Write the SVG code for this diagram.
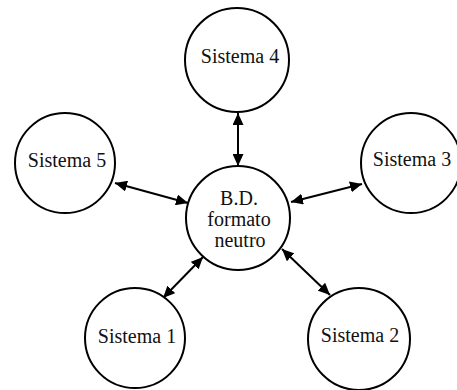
<svg xmlns="http://www.w3.org/2000/svg" width="457" height="390" viewBox="0 0 457 390">
  <style>
    .node circle { fill: #ffffff; stroke: #000000; stroke-width: 2; }
    .node text { font-family: "Liberation Serif", "Times New Roman", serif; font-size: 20px; fill: #111111; text-anchor: middle; }
    .link { stroke: #000000; stroke-width: 2; fill: none; marker-start: url(#head); marker-end: url(#head); }
  </style>
  <defs>
    <marker id="head" markerUnits="userSpaceOnUse" markerWidth="13" markerHeight="11" refX="12" refY="5.5" orient="auto-start-reverse">
      <path d="M0,0 L12,5.5 L0,11 Z" fill="#000000"/>
    </marker>
  </defs>

  <rect width="457" height="390" fill="#ffffff"/>

  <g id="connectors">
    <line class="link" x1="238" y1="113" x2="238" y2="166"/>
    <line class="link" x1="115" y1="183" x2="188" y2="203"/>
    <line class="link" x1="291" y1="202" x2="362" y2="184"/>
    <line class="link" x1="163" y1="298" x2="203" y2="257"/>
    <line class="link" x1="282" y1="249" x2="330" y2="295"/>
  </g>

  <g id="sistema4" class="node">
    <circle cx="237" cy="60" r="52"/>
    <text x="240" y="63">Sistema 4</text>
  </g>

  <g id="sistema5" class="node">
    <circle cx="65" cy="163" r="50"/>
    <text x="67" y="167">Sistema 5</text>
  </g>

  <g id="sistema3" class="node">
    <circle cx="411" cy="163" r="50"/>
    <text x="412" y="166">Sistema 3</text>
  </g>

  <g id="bd" class="node">
    <circle cx="238" cy="218" r="52"/>
    <text x="239" y="205">B.D.</text>
    <text x="239" y="226">formato</text>
    <text x="240" y="247">neutro</text>
  </g>

  <g id="sistema1" class="node">
    <circle cx="135" cy="338" r="50"/>
    <text x="137" y="343">Sistema 1</text>
  </g>

  <g id="sistema2" class="node">
    <circle cx="359" cy="339" r="51"/>
    <text x="360" y="342">Sistema 2</text>
  </g>
</svg>
